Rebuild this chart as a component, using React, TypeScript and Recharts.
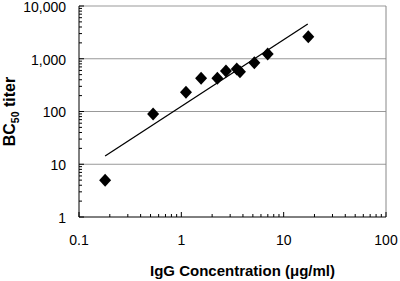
import { ScatterChart, Scatter, XAxis, YAxis, ReferenceLine } from 'recharts';

// IgG concentration (µg/ml) vs BC50 titer
const concentration = [0.18, 0.53, 1.11, 1.56, 2.25, 2.73, 3.48, 3.74, 5.17, 6.98, 17.4];
const titer = [5, 90, 231, 426, 426, 586, 639, 569, 841, 1230, 2620];

// power-law fit line end points
const fitX = [0.18, 17.2];
const fitY = [14.3, 4560];

const xMajor = [0.1, 1, 10, 100];
const yMajor = [1, 10, 100, 1000, 10000];
const minorSteps = [1, 2, 3, 4, 5, 6, 7, 8, 9];

const points = concentration.map((x, i) => ({ x, y: titer[i] }));
const fit = fitX.map((x, i) => ({ x, y: fitY[i] }));

const withMinor = (major: number[]) =>
  major
    .slice(0, -1)
    .flatMap((d) => minorSteps.map((m) => +(d * m).toPrecision(3)))
    .concat(major[major.length - 1]);

const xTicks = withMinor(xMajor);
const yTicks = withMinor(yMajor);

const font = '"Liberation Sans", Arial, sans-serif';

const XTick = ({ x, y, payload }: any) => {
  const major = xMajor.includes(payload.value);
  return (
    <g>
      <line x1={x} x2={x} y1={y} y2={y - (major ? 5 : 3)} stroke="#000" strokeWidth={1} />
      {major && (
        <text x={x} y={y + 28} textAnchor="middle" fontSize={14} fontFamily={font} fill="#000">
          {payload.value}
        </text>
      )}
    </g>
  );
};

const YTick = ({ x, y, payload }: any) => {
  const major = yMajor.includes(payload.value);
  return (
    <g>
      <line x1={x} x2={x + (major ? 5 : 3)} y1={y} y2={y} stroke="#000" strokeWidth={1} />
      {major && (
        <text x={x - 13} y={y} dy="0.42em" textAnchor="end" fontSize={14} fontFamily={font} fill="#000">
          {payload.value.toLocaleString('en-US')}
        </text>
      )}
    </g>
  );
};

const XLabel = ({ viewBox }: any) => (
  <text
    x={viewBox.x + viewBox.width / 2 + 10}
    y={viewBox.y + 59}
    textAnchor="middle"
    fontSize={15}
    fontWeight="bold"
    fontFamily={font}
    fill="#000"
  >
    IgG Concentration (μg/ml)
  </text>
);

const YLabel = ({ viewBox }: any) => {
  const cx = 15;
  const cy = viewBox.y + viewBox.height / 2;
  return (
    <text
      x={cx}
      y={cy}
      transform={`rotate(-90 ${cx} ${cy})`}
      textAnchor="middle"
      fontSize={16}
      fontWeight="bold"
      fontFamily={font}
      fill="#000"
    >
      BC
      <tspan fontSize={10.5} dy={4}>50</tspan>
      <tspan dy={-4}> titer</tspan>
    </text>
  );
};

const Diamond = ({ cx, cy }: any) => (
  <polygon points={`${cx},${cy - 6.5} ${cx + 6},${cy} ${cx},${cy + 6.5} ${cx - 6},${cy}`} fill="#000" />
);

export default function App() {
  return (
    <div style={{ position: 'absolute', left: 0, top: 0, width: 400, height: 281, background: '#fff' }}>
      <ScatterChart width={400} height={281} margin={{ top: 6, right: 14, bottom: 0, left: 0 }}>
        <XAxis
          dataKey="x"
          type="number"
          scale="log"
          domain={[0.1, 100]}
          allowDataOverflow
          ticks={xTicks}
          interval={0}
          tickSize={0}
          tickMargin={0}
          tickLine={false}
          tick={<XTick />}
          axisLine={{ stroke: '#000' }}
          height={64}
          label={<XLabel />}
        />
        <YAxis
          dataKey="y"
          type="number"
          scale="log"
          domain={[1, 10000]}
          allowDataOverflow
          ticks={yTicks}
          interval={0}
          tickSize={0}
          tickMargin={0}
          tickLine={false}
          tick={<YTick />}
          axisLine={{ stroke: '#000' }}
          width={79}
          label={<YLabel />}
        />
        {yMajor.slice(1).map((v) => (
          <ReferenceLine key={v} y={v} stroke="#999" strokeWidth={1} />
        ))}
        <ReferenceLine x={100} stroke="#888" strokeWidth={1} />
        <Scatter
          data={fit}
          line={{ stroke: '#000', strokeWidth: 1.3 }}
          shape={() => <g />}
          isAnimationActive={false}
        />
        <Scatter data={points} shape={<Diamond />} isAnimationActive={false} />
      </ScatterChart>
    </div>
  );
}
